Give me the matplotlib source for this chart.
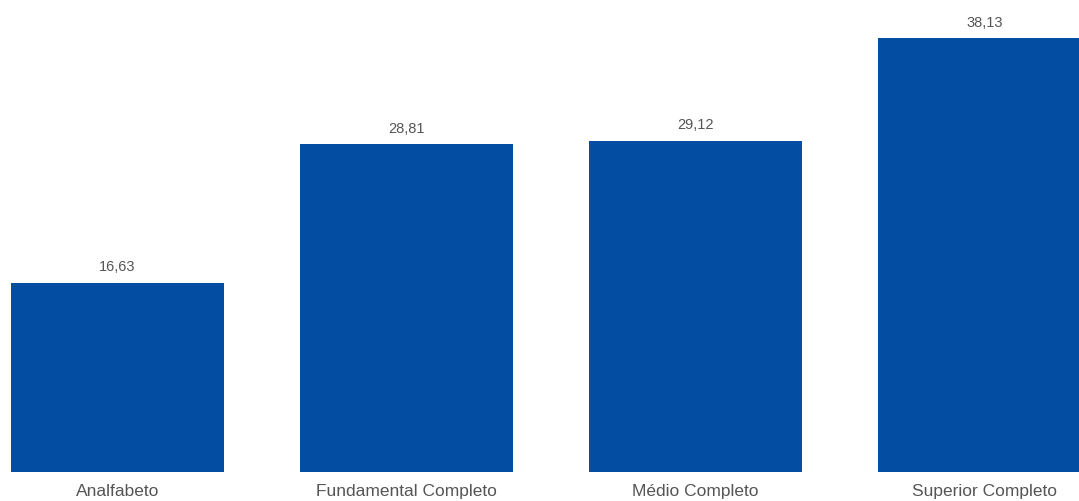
import matplotlib
matplotlib.use("Agg")
import matplotlib.pyplot as plt

# dados
categorias = ["Analfabeto", "Fundamental Completo", "Médio Completo", "Superior Completo"]
valores = [16.63, 28.81, 29.12, 38.13]
rotulos = ["16,63", "28,81", "29,12", "38,13"]

COR_BARRA = "#034EA2"
COR_TEXTO = "#555555"

plt.rcParams['font.family'] = ['Liberation Sans', 'DejaVu Sans']

W, H = 1079, 502
fig = plt.figure(figsize=(W / 100, H / 100), dpi=100)
# eixo ocupa toda a largura, a última barra fica cortada como no original
ax = fig.add_axes([0, 29 / H, 1, 473 / H])

x = list(range(len(categorias)))
barras = ax.bar(x, valores, width=0.737, color=COR_BARRA)

for b, txt in zip(barras, rotulos):
    ax.annotate(txt, (b.get_x() + b.get_width() / 2, b.get_height()),
                xytext=(0, 7), textcoords="offset points",
                ha="center", va="bottom", fontsize=10.5, color=COR_TEXTO)

ax.set_xlim(-0.4066, 3.327)
ax.set_ylim(0, 41.6)
ax.set_xticks(x)
ax.set_xticklabels(categorias, fontsize=12.5, color=COR_TEXTO)
ax.tick_params(axis="x", length=0, pad=8)
ax.set_yticks([])
for s in ax.spines.values():
    s.set_visible(False)

fig.savefig("out.png", dpi=100)
